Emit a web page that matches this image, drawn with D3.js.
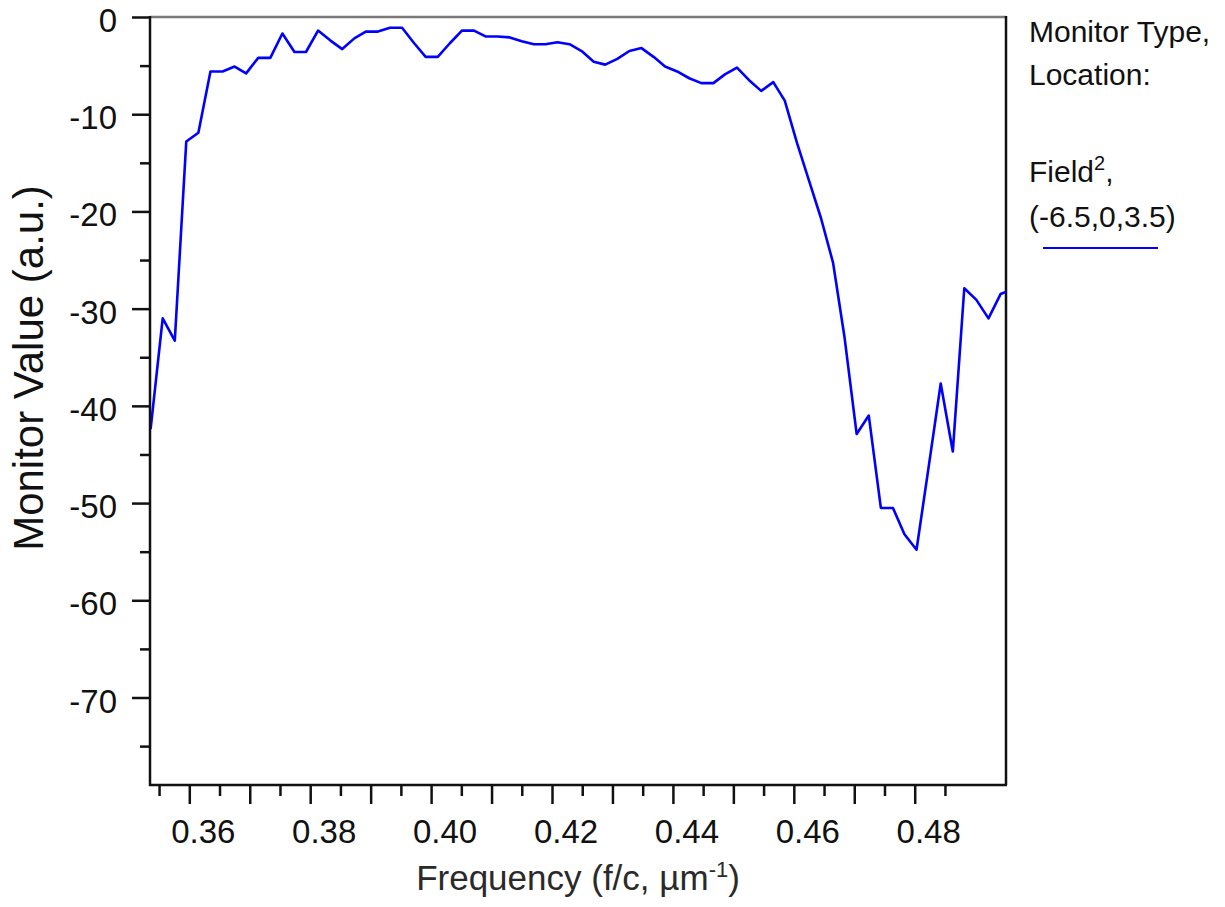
<!DOCTYPE html>
<html>
<head>
<meta charset="utf-8">
<script src="https://cdn.jsdelivr.net/npm/d3@7"></script>
<style>
  html, body { margin: 0; padding: 0; background: #fff; }
  svg { display: block; font-family: "Liberation Sans", Arial, sans-serif; }
</style>
</head>
<body>
<svg id="chart" width="1225" height="907"></svg>
<script>
// Monitor spectrum: field intensity vs normalized frequency
const frequency = [
  0.3536, 0.3556, 0.3576, 0.3595, 0.3615, 0.3635, 0.3655, 0.3675, 0.3694, 0.3714,
  0.3734, 0.3754, 0.3774, 0.3793, 0.3813, 0.3833, 0.3853, 0.3873, 0.3892, 0.3912,
  0.3932, 0.3952, 0.3972, 0.3991, 0.4011, 0.4031, 0.4051, 0.4071, 0.4090, 0.4110,
  0.4130, 0.4150, 0.4170, 0.4189, 0.4209, 0.4229, 0.4249, 0.4269, 0.4288, 0.4308,
  0.4328, 0.4348, 0.4368, 0.4387, 0.4407, 0.4427, 0.4447, 0.4467, 0.4486, 0.4506,
  0.4526, 0.4546, 0.4566, 0.4585, 0.4605, 0.4625, 0.4645, 0.4665, 0.4684, 0.4704,
  0.4724, 0.4744, 0.4764, 0.4783, 0.4803, 0.4823, 0.4843, 0.4863, 0.4882, 0.4902,
  0.4922, 0.4942, 0.4962
];
const monitorValue = [
  -42.4, -31.0, -33.3, -12.8, -11.9, -5.6, -5.6, -5.1, -5.8, -4.2,
  -4.2, -1.7, -3.6, -3.6, -1.4, -2.4, -3.3, -2.2, -1.5, -1.5,
  -1.1, -1.1, -2.7, -4.1, -4.1, -2.7, -1.4, -1.4, -2.0, -2.0,
  -2.1, -2.5, -2.8, -2.8, -2.6, -2.8, -3.5, -4.6, -4.9, -4.3,
  -3.5, -3.2, -4.1, -5.1, -5.6, -6.3, -6.8, -6.8, -5.9, -5.2,
  -6.5, -7.6, -6.7, -8.6, -12.9, -16.8, -20.7, -25.3, -33.0, -42.9,
  -41.0, -50.5, -50.5, -53.2, -54.8, -46.3, -37.7, -44.7, -27.9, -29.1,
  -31.0, -28.5, -28.0
];
const xLabelTicks = [0.36, 0.38, 0.40, 0.42, 0.44, 0.46, 0.48];
const yLabelTicks = [0, -10, -20, -30, -40, -50, -60, -70];
const xDomain = [0.3535, 0.4951];
const yDomain = [-79, 0];
const legendLines = ["Monitor Type,", "Location:"];
const seriesName = "Field";
const seriesLocation = "(-6.5,0,3.5)";

const svg = d3.select("#chart");
const plot = { left: 150, right: 1006, top: 17, bottom: 785 };

const x = d3.scaleLinear().domain(xDomain).range([plot.left, plot.right]);
const y = d3.scaleLinear().domain(yDomain).range([plot.bottom, plot.top]);

const points = frequency.map((f, i) => ({ f, v: monitorValue[i] }));

// clip for the trace
svg.append("defs").append("clipPath").attr("id", "plot-clip")
  .append("rect")
  .attr("x", plot.left).attr("y", plot.top)
  .attr("width", plot.right - plot.left).attr("height", plot.bottom - plot.top);

// frame: gray top edge, black right edge
svg.append("line")
  .attr("x1", plot.left).attr("x2", plot.right)
  .attr("y1", plot.top).attr("y2", plot.top)
  .attr("stroke", "#7a7a7a").attr("stroke-width", 2.5);
svg.append("line")
  .attr("x1", plot.right).attr("x2", plot.right)
  .attr("y1", plot.top - 1).attr("y2", plot.bottom)
  .attr("stroke", "#111").attr("stroke-width", 2.5);

// trace
svg.append("path")
  .datum(points)
  .attr("clip-path", "url(#plot-clip)")
  .attr("fill", "none")
  .attr("stroke", "#0000ff")
  .attr("stroke-width", 2.6)
  .attr("stroke-linejoin", "round")
  .attr("d", d3.line().x(d => x(d.f)).y(d => y(d.v)));

// y axis: major every 10, minor every 5
const yAxis = d3.axisLeft(y)
  .tickValues(d3.range(0, -76, -5))
  .tickSize(0)
  .tickFormat("");
const gy = svg.append("g").attr("transform", `translate(${plot.left},0)`).call(yAxis);
gy.select(".domain").remove();
gy.selectAll(".tick").each(function(d) {
  const major = yLabelTicks.includes(d);
  d3.select(this).select("line")
    .attr("x2", major ? -18 : -10)
    .attr("stroke", "#111").attr("stroke-width", 2.5);
});
svg.append("line")
  .attr("x1", plot.left).attr("x2", plot.left)
  .attr("y1", plot.top - 1).attr("y2", plot.bottom + 1)
  .attr("stroke", "#111").attr("stroke-width", 2.5);

svg.append("g").selectAll("text").data(yLabelTicks).join("text")
  .attr("x", 117)
  .attr("y", d => y(d) + 15)
  .attr("text-anchor", "end")
  .attr("font-size", 33)
  .attr("fill", "#111")
  .text(d => String(d));

// x axis: major every 0.01, minor every 0.005
const xTickVals = d3.range(0, 27).map(i => +(0.355 + i * 0.005).toFixed(3));
const xAxis = d3.axisBottom(x)
  .tickValues(xTickVals)
  .tickSize(0)
  .tickFormat("");
const gx = svg.append("g").attr("transform", `translate(0,${plot.bottom})`).call(xAxis);
gx.select(".domain").remove();
gx.selectAll(".tick").each(function(d) {
  const major = Math.abs(Math.round(d * 100) - d * 100) < 1e-6;
  d3.select(this).select("line")
    .attr("y2", major ? 19 : 11)
    .attr("stroke", "#111").attr("stroke-width", 2.5);
});
svg.append("line")
  .attr("x1", plot.left - 1).attr("x2", plot.right + 1)
  .attr("y1", plot.bottom).attr("y2", plot.bottom)
  .attr("stroke", "#111").attr("stroke-width", 2.5);

svg.append("g").selectAll("text").data(xLabelTicks).join("text")
  .attr("x", d => x(d) + 14)
  .attr("y", 843)
  .attr("text-anchor", "middle")
  .attr("font-size", 33)
  .attr("fill", "#111")
  .text(d => d3.format(".2f")(d));

// axis titles
const xTitle = svg.append("text")
  .attr("x", (plot.left + plot.right) / 2)
  .attr("y", 890)
  .attr("text-anchor", "middle")
  .attr("font-size", 35)
  .attr("fill", "#2a2a2a");
xTitle.append("tspan").text("Frequency (f/c, \u00b5m");
xTitle.append("tspan").attr("font-size", 22).attr("dy", -13).text("-1");
xTitle.append("tspan").attr("dy", 13).text(")");

svg.append("text")
  .attr("transform", "translate(43,368) rotate(-90)")
  .attr("text-anchor", "middle")
  .attr("font-size", 42)
  .attr("fill", "#111")
  .text("Monitor Value (a.u.)");

// legend
const legend = svg.append("g").attr("font-size", 30).attr("fill", "#111");
legend.selectAll("text.hdr").data(legendLines).join("text")
  .attr("class", "hdr")
  .attr("x", 1029)
  .attr("y", (d, i) => 42 + i * 43)
  .text(d => d);
const fieldText = legend.append("text").attr("x", 1029).attr("y", 182);
fieldText.append("tspan").text(seriesName);
fieldText.append("tspan").attr("font-size", 20).attr("dy", -12).text("2");
fieldText.append("tspan").attr("dy", 12).text(",");
legend.append("text").attr("x", 1029).attr("y", 227).text(seriesLocation);
legend.append("line")
  .attr("x1", 1043).attr("x2", 1158)
  .attr("y1", 248).attr("y2", 248)
  .attr("stroke", "#0000ff").attr("stroke-width", 2.2);
</script>
</body>
</html>
